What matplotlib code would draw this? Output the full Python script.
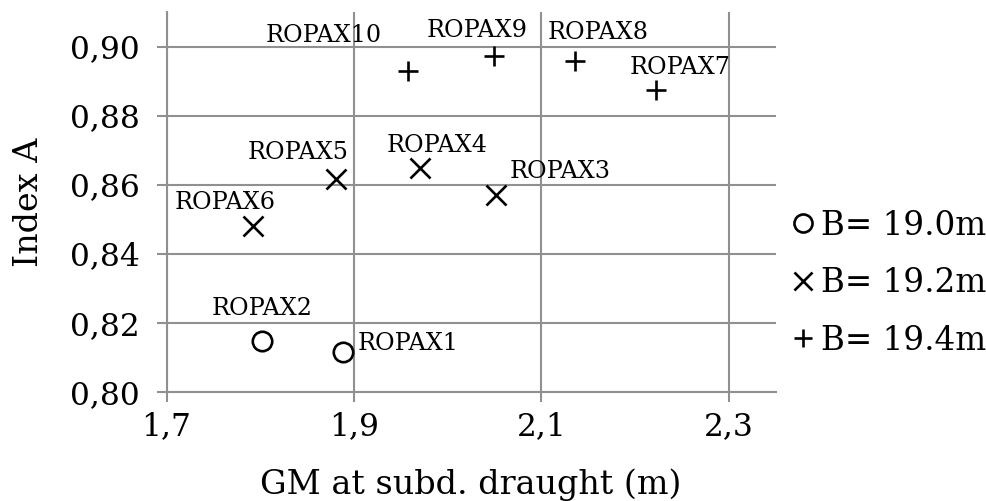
import matplotlib
matplotlib.use("Agg")
import matplotlib.pyplot as plt
from matplotlib.lines import Line2D
from matplotlib.ticker import FuncFormatter

plt.rcParams['font.family'] = ['DejaVu Serif']

# GM at subdivision draught (m) and attained index A for each ship, grouped by beam
names_b190 = ["ROPAX1", "ROPAX2"]
gm_b190 = [1.888, 1.802]
idx_b190 = [0.8114, 0.8146]

names_b192 = ["ROPAX3", "ROPAX4", "ROPAX5", "ROPAX6"]
gm_b192 = [2.052, 1.970, 1.881, 1.792]
idx_b192 = [0.8570, 0.8647, 0.8617, 0.8481]

names_b194 = ["ROPAX7", "ROPAX8", "ROPAX9", "ROPAX10"]
gm_b194 = [2.222, 2.136, 2.049, 1.958]
idx_b194 = [0.8874, 0.8959, 0.8974, 0.8928]

series_labels = ["B= 19.0m", "B= 19.2m", "B= 19.4m"]
x_ticks = [1.7, 1.9, 2.1, 2.3]
y_ticks = [0.80, 0.82, 0.84, 0.86, 0.88, 0.90]

# label placement (pixel offsets of the label centre from its marker)
label_offsets = {
    "ROPAX1": (65, 9), "ROPAX2": (0, 33),
    "ROPAX3": (64, 23), "ROPAX4": (18, 23), "ROPAX5": (-38, 26), "ROPAX6": (-28, 23),
    "ROPAX7": (24, 23), "ROPAX8": (23, 28), "ROPAX9": (-16, 25), "ROPAX10": (-85, 36),
}

grid_col = "#909090"
fig = plt.figure(figsize=(9.87, 5.01), dpi=100)
ax = fig.add_axes([0.1687, 0.2182, 0.6172, 0.7578])

ms, mew = 14, 1.9
ax.plot(gm_b190, idx_b190, linestyle="none", marker="o", mfc="none", mec="black",
        ms=ms, mew=mew, zorder=3)
ax.plot(gm_b192, idx_b192, linestyle="none", marker="x", color="black",
        ms=ms, mew=mew, zorder=3)
ax.plot(gm_b194, idx_b194, linestyle="none", marker="+", color="black",
        ms=ms, mew=mew, zorder=3)

for names, xs, ys in [(names_b190, gm_b190, idx_b190),
                      (names_b192, gm_b192, idx_b192),
                      (names_b194, gm_b194, idx_b194)]:
    for n, x, y in zip(names, xs, ys):
        dx, dy = label_offsets[n]
        ax.annotate(n, (x, y), xytext=(dx, dy), textcoords="offset pixels",
                    ha="center", va="center", fontsize=17.2, color="black")

ax.set_xlim(1.7, 2.35)
ax.set_ylim(0.80, 0.91)
ax.set_xticks(x_ticks)
ax.set_yticks(y_ticks)
ax.xaxis.set_major_formatter(FuncFormatter(lambda v, p: f"{v:.1f}".replace(".", ",")))
ax.yaxis.set_major_formatter(FuncFormatter(lambda v, p: f"{v:.2f}".replace(".", ",")))

ax.grid(True, color=grid_col, linewidth=1.5)
ax.set_axisbelow(True)
for s in ["top", "right"]:
    ax.spines[s].set_visible(False)
for s in ["left", "bottom"]:
    ax.spines[s].set_color(grid_col)
    ax.spines[s].set_linewidth(1.5)
ax.tick_params(axis="both", direction="out", length=7, width=1.5, color=grid_col,
               labelsize=22.5, labelcolor="black")
ax.tick_params(axis="x", pad=7)
ax.tick_params(axis="y", pad=12)

ax.set_xlabel("GM at subd. draught (m)", fontsize=24, labelpad=19)
ax.set_ylabel("Index A", fontsize=24, labelpad=18)

handles = [
    Line2D([], [], linestyle="none", marker="o", mfc="none", mec="black", ms=13, mew=mew),
    Line2D([], [], linestyle="none", marker="x", color="black", ms=13, mew=mew),
    Line2D([], [], linestyle="none", marker="+", color="black", ms=13, mew=mew),
]
fig.legend(handles, series_labels, loc="center left", bbox_to_anchor=(0.8045, 0.435),
           bbox_transform=fig.transFigure, frameon=False, fontsize=23.5,
           handlelength=0.55, handletextpad=0.28, labelspacing=0.78,
           borderpad=0, borderaxespad=0)

fig.savefig("out.png", dpi=100)
